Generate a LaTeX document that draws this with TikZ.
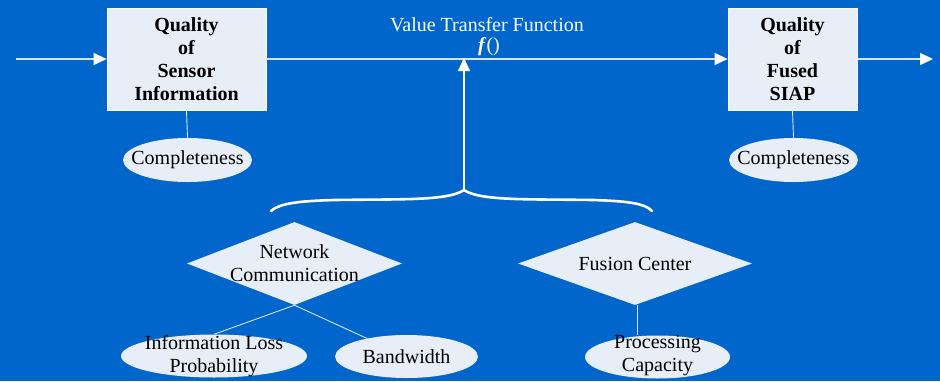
\documentclass[tikz,border=0pt]{standalone}
\usepackage{fontspec}
\setmainfont{Liberation Serif}
\usetikzlibrary{shapes.geometric,arrows.meta}
\definecolor{bg}{RGB}{0,102,204}
\definecolor{boxfill}{RGB}{232,238,248}
\definecolor{linec}{RGB}{215,228,245}
\begin{document}
\begin{tikzpicture}[x=1pt,y=-1pt,
  qbox/.style={draw=white,line width=0.8pt,fill=boxfill,minimum height=102pt,inner sep=0pt,align=center,text=black,font=\bfseries\fontsize{20}{23}\selectfont},
  oval/.style={ellipse,fill=boxfill,inner sep=0pt},
  diam/.style={diamond,fill=boxfill,inner sep=0pt},
  lbl/.style={font=\fontsize{20}{23}\selectfont,align=center,text=black,inner sep=0pt},
  wlbl/.style={font=\fontsize{20}{23}\selectfont,align=center,text=white,inner sep=0pt},
  flow/.style={draw=linec,line width=1.3pt,-{Triangle[length=13pt,width=12pt,color=white]}},
  link/.style={draw=linec,line width=0.9pt},
  bracestyle/.style={draw=white,line width=2.6pt,line cap=round,line join=round}]
\fill[bg] (0,0) rectangle (940,381);
\useasboundingbox (0,0) rectangle (940,381);
% boxes
\node[qbox,minimum width=159pt] (q1) at (186.5,59) {Quality\\of\\Sensor\\Information};
\node[qbox,minimum width=129pt] (q2) at (792.5,59) {Quality\\of\\Fused\\SIAP};
\coordinate (in) at (16,59);
\coordinate (out) at (933,59);
\draw[flow] (in) -- (q1.west);
\draw[flow] (q1.east) -- (q2.west);
\draw[flow] (q2.east) -- (out);
% completeness
\node[oval,minimum width=129pt,minimum height=44pt] (c1) at (187.5,160) {};
\node[lbl] (c1t) at (c1) {Completeness};
\node[oval,minimum width=129pt,minimum height=44pt] (c2) at (793.5,160) {};
\node[lbl] (c2t) at (c2) {Completeness};
\draw[link] (q1.south) -- (c1.north);
\draw[link] (q2.south) -- (c2.north);
% title
\node[wlbl] (vtf) at (487,25) {Value Transfer Function};
\node[wlbl] (fx) at (489,47) {\textbf{\textit{f}}()};
% brace
\coordinate (bl) at (271,211);
\coordinate (bt) at (464,190);
\coordinate (br) at (652,211);
\coordinate (ft) at (464,58);
\draw[bracestyle] (bl) .. controls (280,203) and (300,201) .. (335,200)
  .. controls (400,199) and (448,201) .. (bt)
  .. controls (480,201) and (528,199) .. (593,200)
  .. controls (625,201) and (645,203) .. (br);
\draw[flow,draw=white] (bt) -- (ft);
% diamonds
\node[diam,minimum width=215pt,minimum height=83pt] (nc) at (294.5,263.5) {};
\node[lbl] (nct) at (nc) {Network\\Communication};
\node[diam,minimum width=234pt,minimum height=83pt] (fc) at (635,263.5) {};
\node[lbl] (fct) at (fc) {Fusion Center};
% bottom ellipses
\node[oval,minimum width=186pt,minimum height=43pt] (ilp) at (214,356) {};
\node[lbl] (ilpt) at (214,356) {Information Loss\\Probability};
\node[oval,minimum width=143pt,minimum height=43pt] (bw) at (406.5,356.5) {};
\node[lbl] (bwt) at (bw) {Bandwidth};
\node[oval,minimum width=145pt,minimum height=43pt] (pc) at (657.5,357) {};
\node[lbl] (pct) at (657.5,356) {Processing\\Capacity};
\draw[link] (nc.south) -- (ilp.north);
\draw[link] (nc.south) -- (bw);
\draw[link] ([xshift=2pt]fc.south) -- ([xshift=2pt]fc.south |- pc.north);
\end{tikzpicture}
\end{document}
